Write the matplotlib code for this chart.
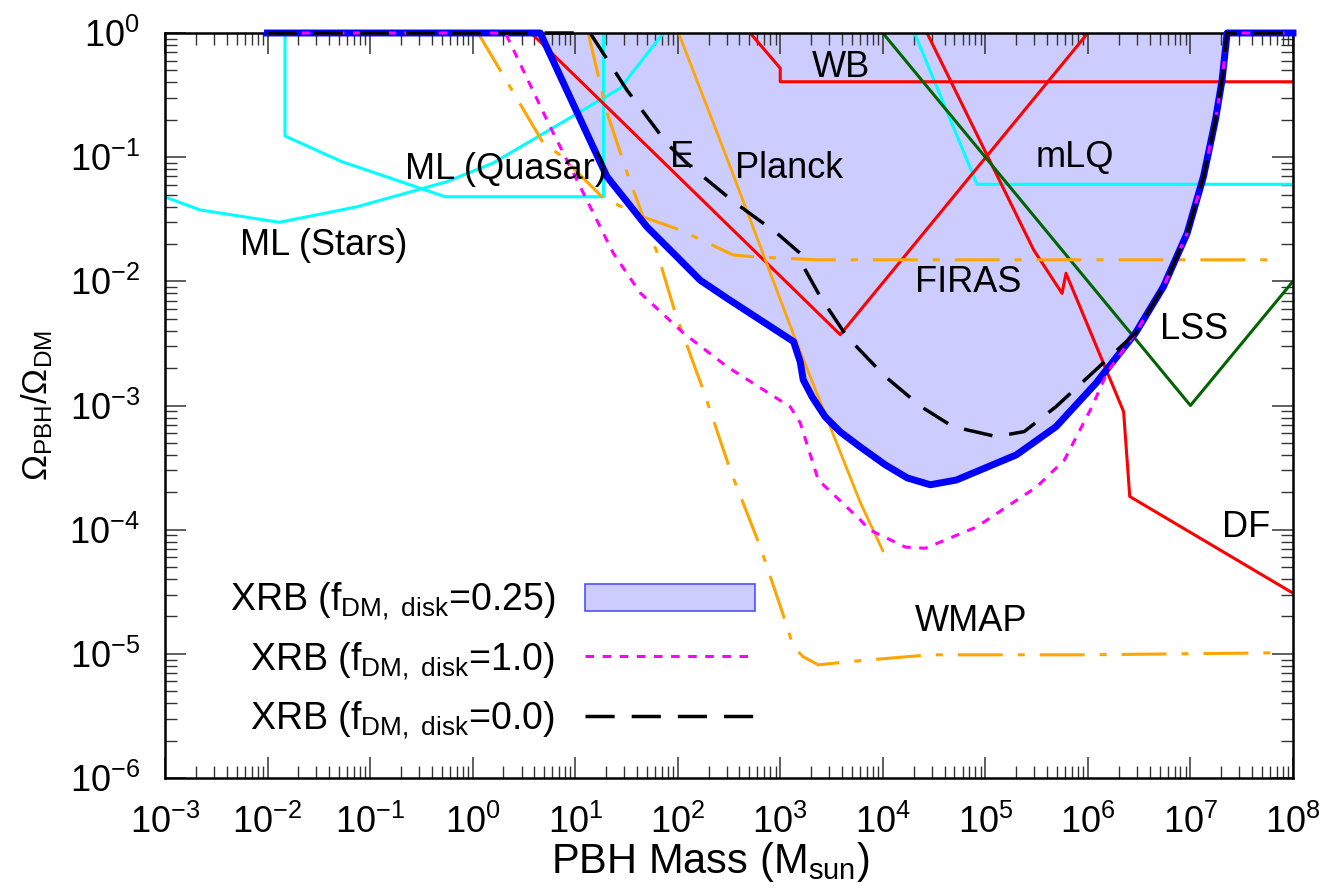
import matplotlib
matplotlib.use("Agg")
import matplotlib.pyplot as plt
from matplotlib import rcParams
from matplotlib.ticker import LogLocator, NullFormatter
from matplotlib.patches import Patch
from matplotlib.lines import Line2D
import numpy as np

rcParams['font.family'] = ['Liberation Sans', 'DejaVu Sans']
rcParams['mathtext.fontset'] = 'custom'
rcParams['mathtext.rm'] = 'Liberation Sans'
rcParams['mathtext.it'] = 'Liberation Sans:italic'
rcParams['mathtext.bf'] = 'Liberation Sans:bold'
rcParams['mathtext.default'] = 'regular'
rcParams['axes.unicode_minus'] = False

# --- XRB bounds (three disk fractions) ---
xrb_mass = [1e-2, 4.56, 20.4, 31.9, 50.0, 91.0, 166, 302, 1349, 1567, 1675, 2051, 2748,
            3846, 6026, 10568, 17338, 29040, 52123, 200447, 489779, 1.197e6]
xrb_frac = [1, 1, 0.0697, 0.0439, 0.0275, 0.0168, 0.0102, 7.31e-3, 3.27e-3, 2.24e-3,
            1.61e-3, 1.17e-3, 8.09e-4, 6.13e-4, 4.64e-4, 3.33e-4, 2.61e-4, 2.30e-4,
            2.51e-4, 4.0e-4, 6.76e-4, 1.51e-3]

# high-mass wall shared by all three XRB curves
wall_mass = [2.904e6, 5.458e6, 9.29e6, 1.34e7, 1.754e7, 2.037e7, 2.28e7, 1e8]
wall_frac = [3.82e-3, 9.06e-3, 0.0244, 0.0697, 0.200, 0.419, 1, 1]

xrb1_mass = [1e-2, 2.09, 5.70, 11.2, 23.5, 43.1, 113, 304, 1253, 1567, 2350, 6026,
             7379, 16596, 25942, 81846, 316228, 588844, 1.096e6, 1.549e6]
xrb1_frac = [1, 1, 0.176, 0.0578, 0.0169, 8.07e-3, 3.85e-3, 2.05e-3, 9.75e-4, 7.24e-4,
             2.51e-4, 1.20e-4, 1.0e-4, 7.24e-5, 7.08e-5, 1.05e-4, 2.21e-4, 3.63e-4,
             9.77e-4, 1.86e-3]

xrb0_mass = [1e-2, 14.0, 31.9, 78.5, 123, 350, 929, 1567, 1687, 2455, 4467, 10568,
             23605, 48195, 127938, 239883, 489779, 1.197e6]
xrb0_frac = [1, 1, 0.348, 0.129, 0.0893, 0.0439, 0.0244, 0.0168, 0.0131, 7.53e-3,
             3.59e-3, 1.71e-3, 9.8e-4, 6.76e-4, 5.62e-4, 6.17e-4, 9.8e-4, 1.94e-3]

# --- other constraints ---
mlq_mass = [0.0148, 0.0148, 0.053, 0.54, 18.9, 18.9]
mlq_frac = [1, 0.148, 0.092, 0.048, 0.048, 1]

mls_mass = [1e-3, 2.19e-3, 0.013, 0.074, 0.562, 1.585, 27.5, 72.4]
mls_frac = [0.0478, 0.0376, 0.0299, 0.0398, 0.0635, 0.0897, 0.359, 1]

mlq2_mass = [2.04e4, 8.3e4, 1e8]
mlq2_frac = [1, 0.0605, 0.0605]

e_mass = [3.72, 3846, 1e6]
e_frac = [1, 3.72e-3, 1]

wb_mass = [509, 1000, 1000, 1e8]
wb_frac = [1, 0.52, 0.405, 0.405]

df_mass = [2.7e4, 2.96e5, 5.6e5, 6.12e5, 2.23e6, 2.56e6, 1e8]
df_frac = [1, 0.0179, 8.0e-3, 0.0116, 8.93e-4, 1.85e-4, 3.08e-5]

lss_mass = [1e4, 1e7, 1e8]
lss_frac = [1, 1e-3, 1e-2]

planck_mass = [102, 325, 1349, 6026, 1e4]
planck_frac = [1, 0.0838, 3.72e-3, 1.66e-4, 6.76e-5]

firas_mass = [1.13, 1.85, 4.88, 7.14, 18.7, 46.0, 106, 348, 597, 2296, 7.55e7]
firas_frac = [1, 0.504, 0.130, 0.104, 0.0470, 0.0330, 0.0259, 0.0163, 0.0157, 0.0149, 0.0149]

wmap_mass = [13.4, 20.5, 32.1, 46.0, 63.1, 94.6, 142, 177, 325, 638, 1169, 1340, 1675,
             2350, 4508, 2.84e4, 9.25e5, 7.55e7]
wmap_frac = [1, 0.227, 0.0746, 0.0331, 0.0170, 5.57e-3, 2.20e-3, 1.34e-3, 3.03e-4,
             7.28e-5, 1.65e-5, 1.14e-5, 9.46e-6, 8.15e-6, 8.63e-6, 9.82e-6, 9.82e-6, 1.02e-5]

fig = plt.figure(figsize=(13.23, 8.92), dpi=100)
ax = fig.add_axes([0.1247, 0.1278, 0.8526, 0.8352])

m25 = np.array(xrb_mass + wall_mass)
f25 = np.array(xrb_frac + wall_frac)
m10 = np.array(xrb1_mass + wall_mass)
f10 = np.array(xrb1_frac + wall_frac)
m00 = np.array(xrb0_mass + wall_mass)
f00 = np.array(xrb0_frac + wall_frac)

ax.fill_between(m25, f25, 1, color='#ccccff', lw=0, zorder=1)

orange = '#ffa500'
ax.plot(mlq_mass, mlq_frac, color='cyan', lw=2.2, zorder=2)
ax.plot(mls_mass, mls_frac, color='cyan', lw=2.2, zorder=2)
ax.plot(mlq2_mass, mlq2_frac, color='cyan', lw=2.2, zorder=2)
ax.plot(e_mass, e_frac, color='red', lw=2.2, zorder=2)
ax.plot(wb_mass, wb_frac, color='red', lw=2.2, zorder=2)
ax.plot(df_mass, df_frac, color='red', lw=2.2, zorder=2)
ax.plot(lss_mass, lss_frac, color='#006400', lw=2.2, zorder=2)
ax.plot(planck_mass, planck_frac, color=orange, lw=2.0, zorder=2)
ax.plot(firas_mass, firas_frac, color=orange, lw=2.2, dashes=(14.7, 4.9, 2.3, 4.9), zorder=2)
ax.plot(wmap_mass, wmap_frac, color=orange, lw=2.2, dashes=(14.7, 4.9, 2.3, 4.9), zorder=2)

ax.plot(m25, f25, color='blue', lw=5, zorder=3, clip_on=False, solid_joinstyle='round')
ax.plot(m10, f10, color='magenta', lw=2.2, dashes=(2.8, 2.8), zorder=4, clip_on=False)
ax.plot(m00, f00, color='black', lw=2.5, dashes=(8.4, 4.9), zorder=5, clip_on=False)

ax.set_xscale('log')
ax.set_yscale('log')
ax.set_xlim(1e-3, 1e8)
ax.set_ylim(1e-6, 1)

ax.xaxis.set_major_locator(LogLocator(base=10, numticks=20))
ax.yaxis.set_major_locator(LogLocator(base=10, numticks=20))
ax.xaxis.set_minor_locator(LogLocator(base=10, subs=np.arange(2, 10), numticks=200))
ax.yaxis.set_minor_locator(LogLocator(base=10, subs=np.arange(2, 10), numticks=200))
ax.xaxis.set_minor_formatter(NullFormatter())
ax.yaxis.set_minor_formatter(NullFormatter())

ax.tick_params(which='both', direction='in', top=True, right=True, color='#333333')
ax.tick_params(which='major', length=15, width=1.1, labelsize=26)
ax.tick_params(which='minor', length=8.5, width=1.0)
ax.tick_params(axis='x', which='major', pad=19)
ax.tick_params(axis='y', which='major', pad=18)
for s in ax.spines.values():
    s.set_linewidth(1.8)

ax.set_xlabel(r'PBH Mass (M$_{\rm sun}$)', fontsize=30)
ax.xaxis.set_label_coords(0.483, -0.083)
ax.set_ylabel(r'$\Omega_{\rm PBH}/\Omega_{\rm DM}$', fontsize=25, labelpad=10)

# constraint names
fs = 26
ax.text(0.219, 0.0789, 'ML (Quasar)', fontsize=fs, va='center', zorder=6)
ax.text(5.4e-3, 0.0196, 'ML (Stars)', fontsize=fs, va='center', zorder=6)
ax.text(84.5, 0.0986, 'E', fontsize=fs, va='center', zorder=6)
ax.text(364, 0.0818, 'Planck', fontsize=fs, va='center', zorder=6)
ax.text(2050, 0.523, 'WB', fontsize=fs, va='center', zorder=6)
ax.text(3.08e5, 0.1, 'mLQ', fontsize=fs, va='center', zorder=6)
ax.text(2.07e4, 9.7e-3, 'FIRAS', fontsize=fs, va='center', zorder=6)
ax.text(5.1e6, 4.06e-3, 'LSS', fontsize=fs, va='center', zorder=6)
ax.text(2.05e7, 1.05e-4, 'DF', fontsize=fs, va='center', zorder=6)
ax.text(2.07e4, 1.81e-5, 'WMAP', fontsize=fs, va='center', zorder=6)

handles = [Patch(facecolor='#ccccff', edgecolor='#5050ff', lw=1.2),
           Line2D([], [], color='magenta', lw=2.2, dashes=(2.8, 2.8)),
           Line2D([], [], color='black', lw=2.5, dashes=(8.4, 4.9))]
labels = [r'XRB (f$_{\rm DM,\ disk}$=0.25)',
          r'XRB (f$_{\rm DM,\ disk}$=1.0)',
          r'XRB (f$_{\rm DM,\ disk}$=0.0)']
ax.legend(handles, labels, loc='upper right', bbox_to_anchor=(0.523, 0.265),
          frameon=False, fontsize=27, markerfirst=False, handlelength=4.53,
          handleheight=0.77, handletextpad=0.8, labelspacing=0.47,
          borderpad=0, borderaxespad=0)

plt.savefig('out.png', dpi=100)
